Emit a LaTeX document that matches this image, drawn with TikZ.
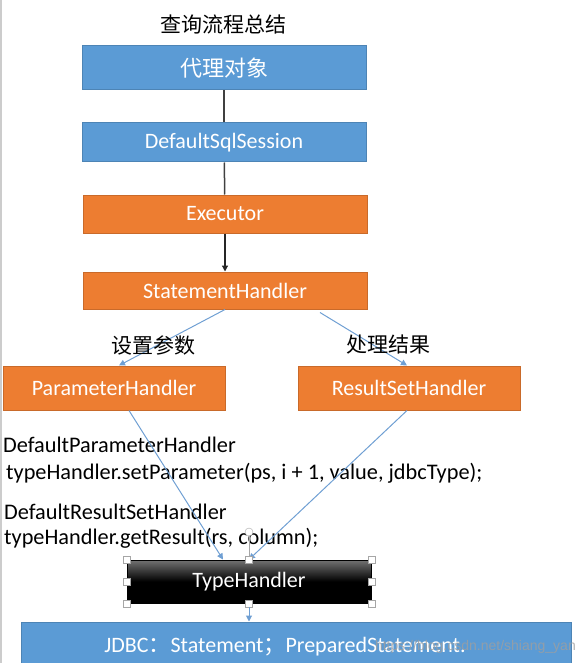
\documentclass[tikz,border=0pt]{standalone}
\usepackage{fontspec}
\setmainfont{Carlito}
\newfontfamily\cjk{Noto Sans CJK SC}
\newfontfamily\wmfont{Liberation Sans}
\usetikzlibrary{arrows.meta, positioning}
\definecolor{boxblue}{HTML}{5B9BD5}
\definecolor{boxorange}{HTML}{ED7D31}
\definecolor{linkblue}{HTML}{6F9FD3}
\tikzset{%
	flowbox/.style={
		draw,
		line width=1pt,
		text=white,
		inner sep=0pt,
		font=\fontsize{22}{23}\selectfont
	},
	bluebox/.style={flowbox, fill=boxblue, draw=boxblue!85!black},
	orangebox/.style={flowbox, fill=boxorange, draw=boxorange!85!black},
	codetext/.style={anchor=west, inner sep=0pt, font=\fontsize{22.3}{23}\selectfont},
	cjklabel/.style={inner sep=0pt, font=\cjk\fontsize{21}{22}\selectfont},
	handle/.style={draw=gray!70, fill=white, line width=0.8pt, minimum size=7pt, inner sep=0pt},
}

\begin{document}
\begin{tikzpicture}[x=1pt, y=-1pt]
			\useasboundingbox (0,0) rectangle (586,663);
			% left edge of the slide
			\draw[gray!40, line width=2pt] (1,0) -- (1,663);
			
			% title
			\node[cjklabel] (title) at (223,25) {查询流程总结};
			
			% upper chain
			\node[bluebox, minimum width=284pt, minimum height=44pt] (proxy) at (224,68) {\cjk 代理对象};
			\node[bluebox, minimum width=284pt, minimum height=39pt] (session) at (224,142.5) {DefaultSqlSession};
			\node[orangebox, minimum width=284pt, minimum height=38pt] (executor) at (225,214) {Executor};
			\node[orangebox, minimum width=284pt, minimum height=37pt] (stmt) at (225,290.5) {StatementHandler};
			
			\draw[black!75, line width=1.5pt] (proxy) -- (session);
			\draw[black!75, line width=1.5pt] (session) -- (executor);
			\draw[-{Triangle[length=6pt, width=6pt]}, black!85, line width=1.2pt] (executor) -- (stmt);
			
			% the two handlers
			\node[orangebox, minimum width=222pt, minimum height=44pt] (param) at (114,388) {ParameterHandler};
			\node[orangebox, minimum width=222pt, minimum height=44pt] (result) at (409,388) {ResultSetHandler};
			
			\draw[-{Triangle[length=6pt, width=6pt]}, linkblue, line width=1pt] (stmt.south) -- ([xshift=5pt]param.north);
			\draw[-{Triangle[length=6pt, width=6pt]}, linkblue, line width=1pt] ([xshift=95pt, yshift=-3pt]stmt.south) -- ([xshift=-2pt]result.north);
			
			\node[cjklabel] (setlabel) at (153,345) {设置参数};
			\node[cjklabel] (getlabel) at (388,345) {处理结果};
			
			% code lines
			\node[codetext] (pclass) at (3,445) {DefaultParameterHandler};
			\node[codetext] (pcall) at (6,473) {typeHandler.setParameter(ps, i + 1, value, jdbcType);};
			\node[codetext] (rclass) at (4,512) {DefaultResultSetHandler};
			\node[codetext] (rcall) at (4,538) {typeHandler.getResult(rs, column);};
			
			% type handler, still selected
			\node[flowbox, draw=black, top color=black!55, bottom color=black, middle color=black, minimum width=244pt, minimum height=43pt] (typeh) at (249,581.5) {TypeHandler};
			
			\draw[-{Triangle[length=6pt, width=6pt]}, linkblue, line width=1pt] ([xshift=15pt]param.south) -- ([xshift=-26pt]typeh.north);
			\draw[-{Triangle[length=6pt, width=6pt]}, linkblue, line width=1pt] ([xshift=-2pt]result.south) -- (typeh.north);
			
			\node[draw=gray!70, fill=white, circle, minimum size=8pt, inner sep=0pt] (rotor) at (249,532) {};
			\draw[gray!70, line width=0.8pt] (rotor) -- (typeh.north);
			\foreach \a in {north west, north, north east, west, east, south west, south, south east}
				\node[handle] (h-\a) at (typeh.\a) {};
			
			% JDBC bar
			\node[bluebox, minimum width=550pt, minimum height=46pt] (jdbc) at (296,645) {};
			\draw[-{Triangle[length=6pt, width=6pt]}, linkblue, line width=1pt] (h-south) -- (h-south |- jdbc.north);
			\node[inner sep=0pt, text=white, font=\fontsize{22}{23}\selectfont] (jdbctext) at (285,647) {JDBC{\cjk ：}Statement{\cjk ；}PreparedStatement.};
			\node[anchor=east, inner sep=0pt, text=gray!75, opacity=0.8, font=\wmfont\fontsize{14}{15}\selectfont] (mark) at (576,647) {https://blog.csdn.net/shiang\_yan};
			
		\end{tikzpicture}
\end{document}
